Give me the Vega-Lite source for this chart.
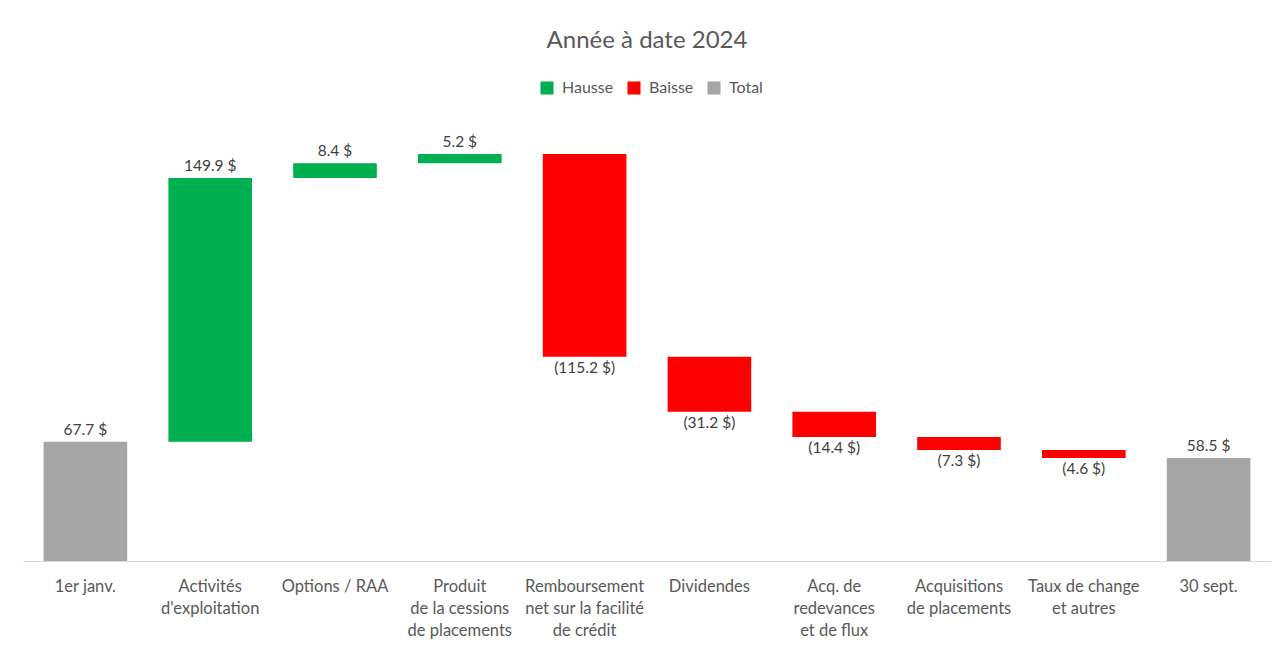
{
  "$schema": "https://vega.github.io/schema/vega-lite/v6.json",
  "autosize": "none",
  "width": 1248,
  "height": 440,
  "padding": {"left": 23, "top": 121, "right": 2, "bottom": 86},
  "background": "white",
  "title": {
    "text": "Année à date 2024",
    "font": "Lato",
    "fontSize": 24,
    "fontWeight": "normal",
    "color": "#595959",
    "anchor": "middle",
    "orient": "top",
    "offset": 27
  },
  "config": {
    "view": {"stroke": null},
    "font": "Lato"
  },
  "data": {
    "values": [
      {"cat": "1er janv.", "start": 0, "end": 67.7, "type": "Total", "lbl": "67.7 $"},
      {"cat": "Activités|d'exploitation", "start": 67.7, "end": 217.6, "type": "Hausse", "lbl": "149.9 $"},
      {"cat": "Options / RAA", "start": 217.6, "end": 226.0, "type": "Hausse", "lbl": "8.4 $"},
      {"cat": "Produit|de la cessions|de placements", "start": 226.0, "end": 231.2, "type": "Hausse", "lbl": "5.2 $"},
      {"cat": "Remboursement|net sur la facilité|de crédit", "start": 231.2, "end": 116.0, "type": "Baisse", "lbl": "(115.2 $)"},
      {"cat": "Dividendes", "start": 116.0, "end": 84.8, "type": "Baisse", "lbl": "(31.2 $)"},
      {"cat": "Acq. de|redevances|et de flux", "start": 84.8, "end": 70.4, "type": "Baisse", "lbl": "(14.4 $)"},
      {"cat": "Acquisitions|de placements", "start": 70.4, "end": 63.1, "type": "Baisse", "lbl": "(7.3 $)"},
      {"cat": "Taux de change|et autres", "start": 63.1, "end": 58.5, "type": "Baisse", "lbl": "(4.6 $)"},
      {"cat": "30 sept.", "start": 0, "end": 58.5, "type": "Total", "lbl": "58.5 $"}
    ]
  },
  "encoding": {
    "x": {
      "field": "cat",
      "type": "nominal",
      "sort": null,
      "scale": {"paddingInner": 0.33, "paddingOuter": 0.165},
      "axis": {
        "title": null,
        "labelAngle": 0,
        "labelExpr": "split(datum.label, '|')",
        "labelFont": "Lato",
        "labelFontSize": 16.5,
        "labelColor": "#595959",
        "labelLineHeight": 22,
        "labelBaseline": "top",
        "labelPadding": 17,
        "ticks": false,
        "domainColor": "#d9d9d9",
        "domainWidth": 1,
        "labelLimit": 0
      }
    }
  },
  "layer": [
    {
      "mark": {"type": "bar"},
      "encoding": {
        "y": {"field": "start", "type": "quantitative", "scale": {"domain": [0, 250], "nice": false}, "axis": null},
        "y2": {"field": "end"},
        "color": {
          "field": "type",
          "type": "nominal",
          "scale": {"domain": ["Hausse", "Baisse", "Total"], "range": ["#00B050", "#FF0000", "#A5A5A5"]},
          "legend": {
            "title": null,
            "orient": "none",
            "direction": "horizontal",
            "legendX": 516,
            "legendY": -41,
            "symbolType": "square",
            "symbolSize": 170,
            "symbolStrokeWidth": 0,
            "labelFont": "Lato",
            "labelFontSize": 16,
            "labelColor": "#595959",
            "columnPadding": 12,
            "labelOffset": 7
          }
        }
      }
    },
    {
      "transform": [{"filter": "datum.type != 'Baisse'"}],
      "mark": {"type": "text", "baseline": "bottom", "dy": -4, "fontSize": 15.5, "color": "#404040", "font": "Lato"},
      "encoding": {
        "y": {"field": "end", "type": "quantitative"},
        "text": {"field": "lbl"}
      }
    },
    {
      "transform": [{"filter": "datum.type == 'Baisse'"}],
      "mark": {"type": "text", "baseline": "top", "dy": 4, "fontSize": 15.5, "color": "#404040", "font": "Lato"},
      "encoding": {
        "y": {"field": "end", "type": "quantitative"},
        "text": {"field": "lbl"}
      }
    }
  ]
}
